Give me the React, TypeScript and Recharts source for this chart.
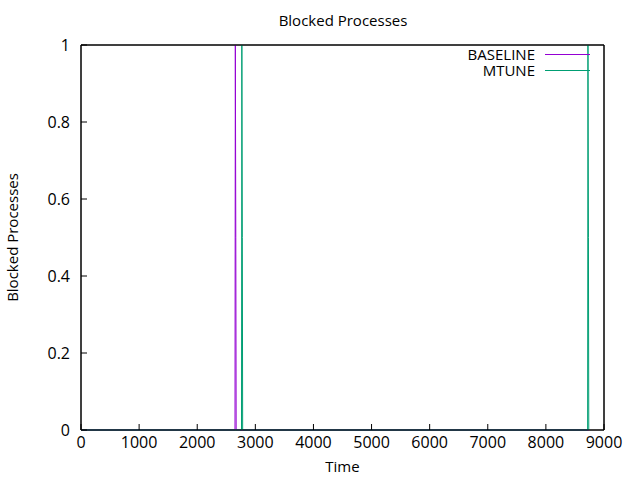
import { LineChart, Line, XAxis, YAxis, ReferenceArea } from "recharts";

// sample times (s) and blocked-process counts
const baselineTime = [0, 2650, 2656, 2664, 2670, 8740];
const baselineBlocked = [0, 0, 1, 0.5, 0, 0];

const mtuneTime = [0, 2762, 2768, 2776, 2782, 8718, 8724, 8732, 8738];
const mtuneBlocked = [0, 0, 1, 0.5, 0, 0, 1, 0.5, 0];

const xTicks = [0, 1000, 2000, 3000, 4000, 5000, 6000, 7000, 8000, 9000];
const yTicks = [0, 0.2, 0.4, 0.6, 0.8, 1];

const seriesNames = ["BASELINE", "MTUNE"];
const seriesColors = ["#9400D3", "#009E73"];

const baseline = baselineTime.map((t, i) => ({ t, v: baselineBlocked[i] }));
const mtune = mtuneTime.map((t, i) => ({ t, v: mtuneBlocked[i] }));

const FONT = "'Open Sans', sans-serif";
const tickStyle = { fill: "#000", fontSize: 16, fontFamily: FONT };

function GnuLegend() {
  return (
    <div
      style={{
        position: "absolute",
        top: 47,
        left: 415,
        fontFamily: FONT,
        fontSize: 15,
        lineHeight: "15.5px",
        color: "#000",
      }}
    >
      {seriesNames.map((name, i) => (
        <div key={name} style={{ display: "flex", alignItems: "center", height: 15.5 }}>
          <span style={{ width: 120, textAlign: "right", marginRight: 10 }}>{name}</span>
          <span style={{ width: 45, height: 0, borderTop: `1px solid ${seriesColors[i]}` }} />
        </div>
      ))}
    </div>
  );
}

export default function App() {
  return (
    <div style={{ position: "absolute", left: 0, top: 0, width: 640, height: 480, background: "#fff" }}>
      <div
        style={{
          position: "absolute",
          top: 10,
          left: 0,
          width: 686,
          textAlign: "center",
          fontFamily: FONT,
          fontSize: 15,
          color: "#000",
        }}
      >
        Blocked Processes
      </div>
      <LineChart width={640} height={480} margin={{ top: 44, right: 35, bottom: 0, left: 0 }}>
        <XAxis
          dataKey="t"
          type="number"
          domain={[0, 9000]}
          ticks={xTicks}
          allowDataOverflow
          height={50}
          stroke="#000"
          tickSize={-6}
          tickMargin={13}
          tick={tickStyle}
          label={{ value: "Time", position: "insideBottom", offset: 8, fill: "#000", fontSize: 15, fontFamily: FONT }}
        />
        <XAxis
          xAxisId="top"
          orientation="top"
          dataKey="t"
          type="number"
          domain={[0, 9000]}
          ticks={xTicks}
          height={1}
          stroke="#000"
          tickSize={-6}
          tickFormatter={() => ""}
        />
        <YAxis
          type="number"
          domain={[0, 1]}
          ticks={yTicks}
          width={81}
          stroke="#000"
          tickSize={-6}
          tickMargin={17}
          tick={tickStyle}
          label={{
            value: "Blocked Processes",
            angle: -90,
            position: "insideLeft",
            offset: 13,
            style: { textAnchor: "middle" },
            fill: "#000",
            fontSize: 15,
            fontFamily: FONT,
          }}
        />
        <YAxis
          yAxisId="right"
          orientation="right"
          type="number"
          domain={[0, 1]}
          ticks={yTicks}
          width={1}
          stroke="#000"
          tickSize={-6}
          tickFormatter={() => ""}
        />
        <ReferenceArea x1={0} x2={9000} y1={0} y2={1} fill="none" stroke="#000" strokeWidth={1} />
        <Line
          data={baseline}
          dataKey="v"
          name="BASELINE"
          type="linear"
          stroke={seriesColors[0]}
          strokeWidth={1}
          dot={false}
          isAnimationActive={false}
        />
        <Line
          data={mtune}
          dataKey="v"
          name="MTUNE"
          type="linear"
          stroke={seriesColors[1]}
          strokeWidth={1}
          dot={false}
          isAnimationActive={false}
        />
      </LineChart>
      <GnuLegend />
    </div>
  );
}
